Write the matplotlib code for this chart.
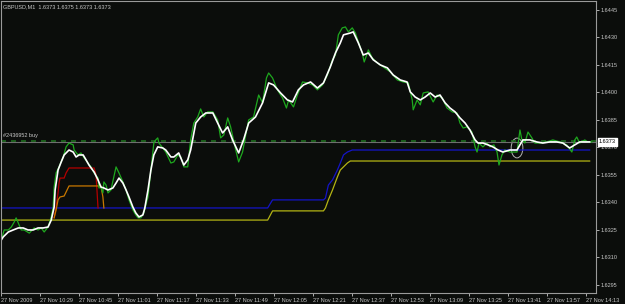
import matplotlib.pyplot as plt
from matplotlib.patches import Ellipse

# minutes after 27 Nov 10:13, and prices
close_t = [0.0, 1.2, 2.9, 4.1, 5.3, 6.1, 7.0, 8.2, 9.4, 11.5, 13.5, 15.1, 16.4, 17.6, 19.2,
           20.5, 21.3, 21.7, 22.5, 23.7, 25.4, 26.6, 27.8, 29.5, 29.9, 31.5, 32.7, 34.0,
           35.6, 36.8, 38.1, 39.7, 40.1, 40.9, 41.7, 42.1, 43.0, 43.8, 45.0, 47.1, 48.3,
           49.9, 51.2, 52.4, 54.0, 55.2, 56.1, 57.3, 58.5, 60.2, 61.4, 62.6, 63.4, 64.2,
           64.7, 66.3, 67.5, 69.6, 70.8, 72.4, 73.7, 74.9, 76.5, 77.7, 79.0, 80.6, 81.8,
           83.1, 84.7, 86.8, 88.8, 90.0, 91.3, 92.9, 94.1, 96.2, 97.4, 99.0, 100.3, 101.5,
           103.5, 105.6, 107.2, 108.8, 109.7, 111.3, 113.3, 115.4, 117.0, 117.9, 119.9,
           121.5, 123.6, 125.6, 127.7, 129.7, 131.8, 133.8, 135.9, 137.1, 138.3, 139.9,
           141.2, 142.4, 144.0, 145.3, 146.5, 148.1, 148.9, 150.2, 150.6, 152.2, 154.3,
           156.7, 159.6, 162.5, 164.9, 167.0, 168.6, 169.0, 170.6, 171.9, 173.1, 175.1,
           177.2, 178.8, 180.9, 182.9, 185.0, 187.0, 188.2, 189.5, 191.1, 193.1, 194.4,
           195.2, 196.0, 197.6, 199.3, 200.5, 202.1, 203.4, 204.2, 205.4, 206.6, 208.7,
           211.6, 212.8, 213.6, 214.8, 216.1, 217.7, 218.9, 221.0, 223.8, 226.3, 229.2,
           232.0, 234.1, 235.3, 236.1, 237.3, 239.4, 240.6, 242.3]
close_p = [1.63195, 1.63250, 1.63250, 1.63266, 1.63293, 1.63316, 1.63288, 1.63250, 1.63250,
           1.63233, 1.63261, 1.63250, 1.63261, 1.63239, 1.63266, 1.63321, 1.63375, 1.63484,
           1.63561, 1.63594, 1.63648, 1.63703, 1.63724, 1.63714, 1.63686, 1.63659, 1.63670,
           1.63643, 1.63615, 1.63594, 1.63561, 1.63533, 1.63479, 1.63484, 1.63452, 1.63512,
           1.63495, 1.63452, 1.63468, 1.63594, 1.63561, 1.63512, 1.63468, 1.63414, 1.63359,
           1.63332, 1.63316, 1.63316, 1.63343, 1.63430, 1.63577, 1.63724, 1.63741, 1.63752,
           1.63724, 1.63697, 1.63675, 1.63615, 1.63621, 1.63659, 1.63648, 1.63594, 1.63594,
           1.63741, 1.63833, 1.63866, 1.63910, 1.63866, 1.63894, 1.63894, 1.63850, 1.63752,
           1.63768, 1.63861, 1.63812, 1.63686, 1.63621, 1.63675, 1.63768, 1.63850, 1.63866,
           1.63986, 1.63943, 1.64079, 1.64106, 1.64079, 1.64014, 1.63970, 1.63915, 1.63959,
           1.63921, 1.63986, 1.64057, 1.64052, 1.64041, 1.64014, 1.64041, 1.64095, 1.64178,
           1.64204, 1.64314, 1.64352, 1.64357, 1.64330, 1.64352, 1.64324, 1.64275, 1.64215,
           1.64166, 1.64215, 1.64232, 1.64188, 1.64161, 1.64139, 1.64112, 1.64068, 1.64057,
           1.64052, 1.63959, 1.63905, 1.63959, 1.63932, 1.63997, 1.64003, 1.63948, 1.63986,
           1.63970, 1.63915, 1.63894, 1.63888, 1.63833, 1.63806, 1.63812, 1.63784, 1.63703,
           1.63675, 1.63724, 1.63703, 1.63724, 1.63703, 1.63714, 1.63675, 1.63604, 1.63659,
           1.63686, 1.63675, 1.63675, 1.63795, 1.63741, 1.63724, 1.63784, 1.63752, 1.63724,
           1.63724, 1.63730, 1.63741, 1.63730, 1.63714, 1.63675, 1.63741, 1.63757, 1.63724,
           1.63741, 1.63730, 1.63730]

smooth_t = [0.0, 0.8, 2.9, 4.9, 7.0, 9.0, 11.0, 13.1, 15.1, 17.2, 19.2, 20.5, 21.7, 22.1,
            23.3, 24.6, 25.8, 27.8, 29.5, 30.7, 31.9, 33.6, 34.8, 36.0, 38.1, 39.7, 40.9,
            42.1, 43.8, 45.8, 47.1, 48.3, 49.9, 51.2, 52.4, 54.0, 55.2, 56.5, 58.1, 58.9,
            60.2, 61.4, 62.6, 64.2, 66.3, 67.5, 69.6, 70.8, 72.8, 74.9, 76.5, 77.7, 79.8,
            81.8, 83.9, 86.8, 88.8, 90.8, 92.9, 94.9, 97.4, 99.4, 101.5, 104.3, 107.2, 109.7,
            111.7, 114.6, 117.4, 119.5, 121.9, 124.0, 126.9, 129.7, 132.2, 135.0, 137.1,
            139.1, 140.4, 143.2, 144.4, 146.5, 148.5, 150.6, 152.6, 155.5, 158.4, 160.8,
            163.7, 166.5, 167.8, 169.8, 171.9, 173.9, 176.0, 178.0, 180.0, 182.1, 184.1,
            186.2, 188.2, 190.3, 192.3, 194.4, 195.6, 197.6, 199.7, 201.7, 203.8, 205.8,
            208.7, 211.6, 212.8, 214.0, 216.9, 219.7, 222.2, 225.1, 227.9, 230.4, 233.2,
            235.3, 237.3, 240.2, 241.4]
smooth_p = [1.63195, 1.63212, 1.63239, 1.63250, 1.63261, 1.63261, 1.63250, 1.63250, 1.63261,
            1.63261, 1.63266, 1.63304, 1.63375, 1.63468, 1.63577, 1.63621, 1.63659, 1.63686,
            1.63675, 1.63648, 1.63659, 1.63659, 1.63632, 1.63604, 1.63566, 1.63523, 1.63484,
            1.63479, 1.63468, 1.63479, 1.63506, 1.63533, 1.63506, 1.63468, 1.63430, 1.63375,
            1.63343, 1.63321, 1.63332, 1.63370, 1.63468, 1.63577, 1.63659, 1.63703, 1.63697,
            1.63686, 1.63648, 1.63648, 1.63670, 1.63604, 1.63632, 1.63686, 1.63833, 1.63866,
            1.63888, 1.63888, 1.63833, 1.63779, 1.63812, 1.63741, 1.63670, 1.63741, 1.63833,
            1.63866, 1.63943, 1.64052, 1.64041, 1.63997, 1.63959, 1.63948, 1.64014, 1.64041,
            1.64057, 1.64024, 1.64052, 1.64139, 1.64215, 1.64270, 1.64314, 1.64324, 1.64330,
            1.64270, 1.64204, 1.64215, 1.64178, 1.64150, 1.64134, 1.64095, 1.64068, 1.64057,
            1.64003, 1.63975, 1.63959, 1.63975, 1.63997, 1.63975, 1.63986, 1.63943, 1.63915,
            1.63894, 1.63861, 1.63833, 1.63795, 1.63741, 1.63724, 1.63724, 1.63714, 1.63703,
            1.63686, 1.63675, 1.63686, 1.63686, 1.63714, 1.63741, 1.63741, 1.63730, 1.63724,
            1.63730, 1.63730, 1.63724, 1.63697, 1.63714, 1.63730, 1.63730, 1.63730]

blue_t = [0.0, 109.3, 111.3, 132.2, 133.0, 134.2, 135.9, 137.9, 139.1, 140.4, 142.0, 144.0, 241.4]
blue_p = [1.63370, 1.63370, 1.63414, 1.63414, 1.63424, 1.63495, 1.63523, 1.63577, 1.63615,
          1.63659, 1.63675, 1.63686, 1.63686]
yellow_t = [0.0, 109.3, 111.3, 132.2, 133.0, 134.2, 135.9, 137.9, 139.1, 140.4, 142.0, 143.2, 241.4]
yellow_p = [1.63304, 1.63304, 1.63354, 1.63354, 1.63370, 1.63414, 1.63468, 1.63539, 1.63577,
            1.63594, 1.63615, 1.63626, 1.63626]
red_t = [21.7, 22.5, 23.3, 23.7, 24.1, 25.8, 26.6, 27.8, 38.1, 38.9, 39.7]
red_p = [1.63316, 1.63375, 1.63452, 1.63506, 1.63533, 1.63533, 1.63561, 1.63588, 1.63588,
         1.63550, 1.63370]
orange_t = [21.7, 22.5, 23.3, 24.1, 25.8, 26.6, 27.8, 40.9, 41.7, 42.1]
orange_p = [1.63316, 1.63359, 1.63414, 1.63430, 1.63435, 1.63457, 1.63490, 1.63490, 1.63430,
            1.63370]

bid = 1.6373
order_price = 1.63737
order_label = "#2436952 buy"
title = "GBPUSD,M1  1.6373 1.6375 1.6373 1.6373"

price_ticks = [1.6295, 1.6310, 1.6325, 1.6340, 1.6355, 1.6370, 1.6385, 1.6400, 1.6415,
               1.6430, 1.6445]
time_ticks = [0, 16, 32, 48, 64, 80, 96, 112, 128, 144, 160, 176, 192, 208, 224, 240]
time_labels = ["27 Nov 2009", "27 Nov 10:29", "27 Nov 10:45", "27 Nov 11:01", "27 Nov 11:17",
               "27 Nov 11:33", "27 Nov 11:49", "27 Nov 12:05", "27 Nov 12:21", "27 Nov 12:37",
               "27 Nov 12:53", "27 Nov 13:09", "27 Nov 13:25", "27 Nov 13:41", "27 Nov 13:57",
               "27 Nov 14:13"]

bg = "#0b0d0b"
fg = "#c8c8c8"
plt.rcParams['font.family'] = ['Liberation Sans', 'DejaVu Sans']

fig = plt.figure(figsize=(6.25, 3.04), dpi=100, facecolor=bg)
ax = fig.add_axes([0.002, 0.036, 0.9516, 0.961], facecolor=bg)

ax.plot(yellow_t, yellow_p, color="#b4b414", lw=0.9)
ax.plot(blue_t, blue_p, color="#1414c8", lw=0.9)
ax.plot(red_t, red_p, color="#b40000", lw=0.9)
ax.plot(orange_t, orange_p, color="#c87800", lw=0.9)
ax.axhline(order_price, color="#1e6e1e", lw=1.2, dashes=(3, 3))
ax.axhline(bid, color="#6e6e6e", lw=0.8)
ax.plot(close_t, close_p, color="#1ea81e", lw=0.9)
ax.plot(smooth_t, smooth_p, color="white", lw=1.2)
ax.add_patch(Ellipse((211.6, 1.63697), 4.8, 0.00108, fill=False, ec="#b4b4b4", lw=0.7))
ax.text(0.8, order_price + 0.00012, order_label, color=fg, fontsize=4, va="bottom")

ax.set_xlim(0, 244)
ax.set_ylim(1.62906, 1.64499)

ax.yaxis.tick_right()
ax.set_yticks(price_ticks)
ax.set_yticklabels(["%.4f" % p for p in price_ticks])
ax.set_xticks(time_ticks)
ax.set_xticklabels(time_labels, ha="left")
ax.tick_params(colors=fg, labelsize=4, length=2, width=0.6, pad=1.5)
for s in ax.spines.values():
    s.set_color("#9a9a9a")
    s.set_linewidth(0.8)

ax.text(1.005, (bid - 1.62906) / (1.64499 - 1.62906), "%.4f" % bid, transform=ax.transAxes,
        fontsize=4, color="black", va="center", ha="left",
        bbox=dict(boxstyle="square,pad=0.25", fc="white", ec="white"))
fig.text(3 / 625, 1 - 4 / 304, title, color=fg, fontsize=4, va="top", ha="left")

fig.savefig("out.png", dpi=100, facecolor=bg)
